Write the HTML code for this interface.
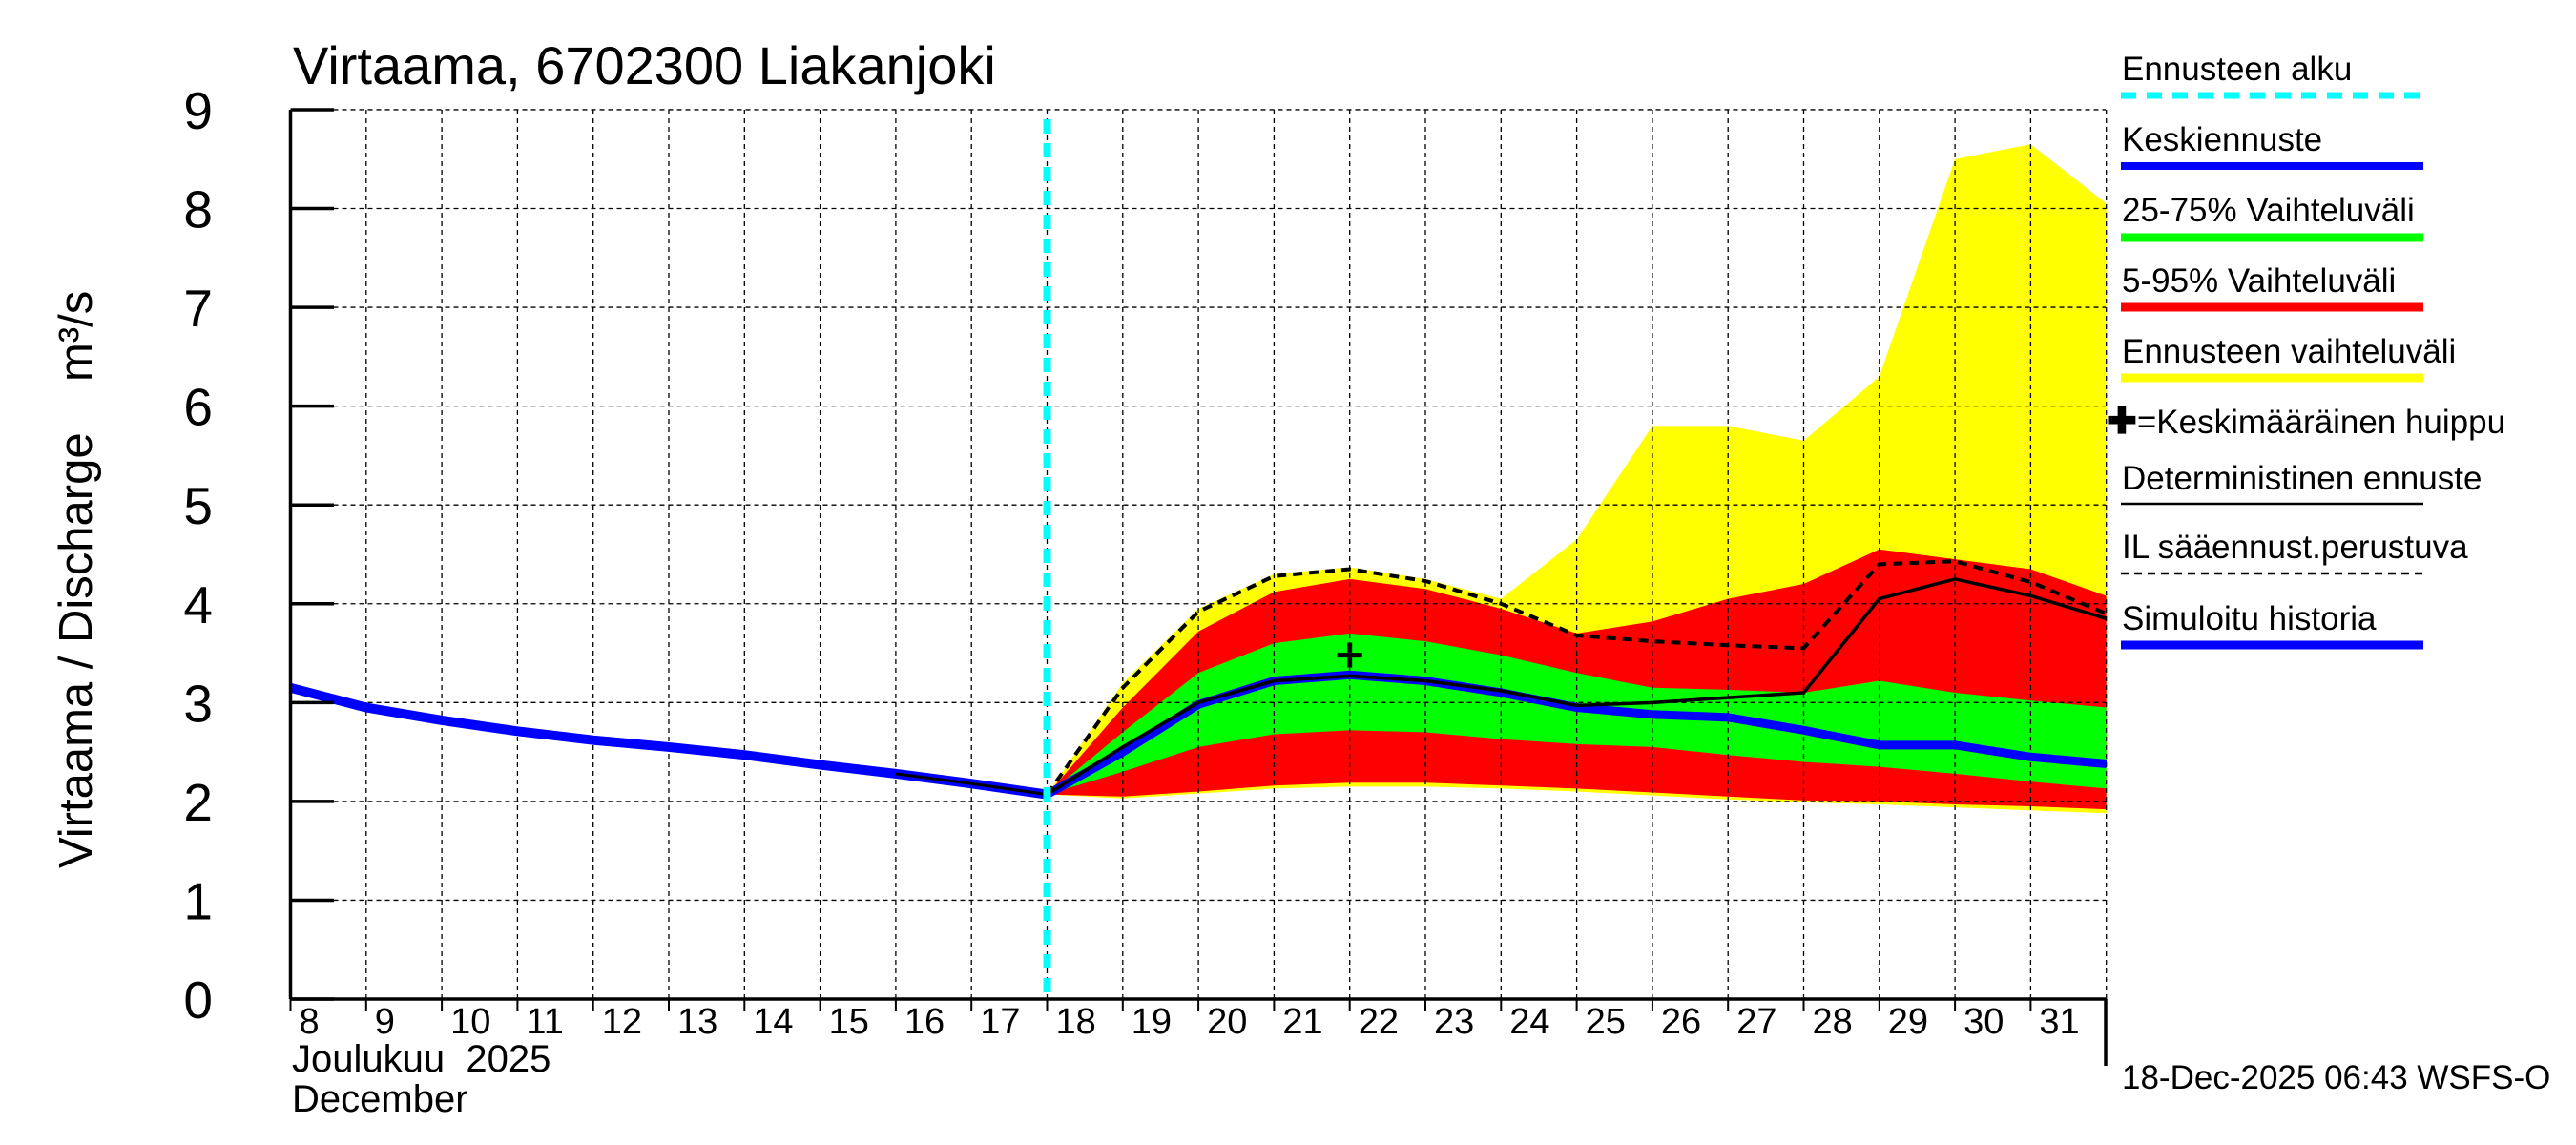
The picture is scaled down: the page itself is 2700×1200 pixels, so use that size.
<!DOCTYPE html>
<html><head><meta charset="utf-8"><style>
html,body{margin:0;padding:0;background:#fff;}
svg{display:block;font-family:"Liberation Sans",sans-serif;}
</style></head><body>
<svg id="chart" width="2700" height="1200" viewBox="0 0 2700 1200"></svg>
<script>
const histDays=[8,9,10,11,12,13,14,15,16,17,18];
const histVals=[3.15,2.95,2.82,2.71,2.62,2.55,2.47,2.37,2.28,2.18,2.07];
const fDays=[18,19,20,21,22,23,24,25,26,27,28,29,30,31,32];
const yelHi=[2.07,3.2,3.95,4.3,4.37,4.25,4.05,4.65,5.8,5.8,5.65,6.3,8.5,8.65,8.05];
const yelLo=[2.07,2.03,2.08,2.13,2.15,2.15,2.13,2.1,2.06,2.02,1.99,1.97,1.94,1.91,1.88];
const redHi=[2.07,2.95,3.72,4.12,4.25,4.15,3.95,3.7,3.82,4.05,4.2,4.55,4.45,4.35,4.08];
const redLo=[2.07,2.05,2.1,2.16,2.19,2.19,2.16,2.13,2.09,2.05,2.01,2.0,1.97,1.95,1.92];
const grnHi=[2.07,2.7,3.3,3.6,3.7,3.62,3.48,3.3,3.15,3.13,3.1,3.22,3.1,3.02,2.95];
const grnLo=[2.07,2.3,2.55,2.68,2.72,2.7,2.63,2.58,2.55,2.47,2.4,2.35,2.28,2.2,2.13];
const meanVals=[2.07,2.5,2.98,3.22,3.28,3.22,3.1,2.95,2.88,2.85,2.72,2.57,2.57,2.45,2.38];
const detVals=[2.07,2.55,3.0,3.22,3.27,3.22,3.12,2.97,3.0,3.05,3.1,4.05,4.25,4.08,3.85];
const ilVals=[2.07,3.15,3.92,4.28,4.35,4.23,4.0,3.68,3.62,3.58,3.55,4.4,4.43,4.22,3.9];
const detHistDays=[16,17,18];
const detHistVals=[2.28,2.18,2.07];
const peakDay=[22];
const peakVal=[3.48];
const yTicks=[0,1,2,3,4,5,6,7,8,9];
const xTickDays=[8,9,10,11,12,13,14,15,16,17,18,19,20,21,22,23,24,25,26,27,28,29,30,31];

const X0=304.5,PXD=79.3,Y0=1047,PXU=103.56,XMAX=2207;
const xs=d=>X0+(d-8)*PXD;
const ys=v=>Y0-v*PXU;
const NS="http://www.w3.org/2000/svg";
const svg=document.getElementById('chart');
function mk(tag,attrs,parent){const e=document.createElementNS(NS,tag);for(const k in attrs)e.setAttribute(k,attrs[k]);(parent||svg).appendChild(e);return e;}
function band(hi,lo,color,name){
  let p=fDays.map((d,i)=>xs(d)+','+ys(hi[i]));
  for(let i=fDays.length-1;i>=0;i--)p.push(xs(fDays[i])+','+ys(lo[i]));
  const e=mk('polygon',{points:p.join(' '),fill:color});
  
  
}
function line(days,vals,attrs,name){
  const e=mk('polyline',Object.assign({points:days.map((d,i)=>xs(d)+','+ys(vals[i])).join(' '),fill:'none'},attrs));
  
  
}
band(yelHi,yelLo,'#ffff00','forecast-range-band');
band(redHi,redLo,'#ff0000','range-5-95-band');
band(grnHi,grnLo,'#00ff00','range-25-75-band');

const grid=mk('g',{stroke:'#000','stroke-width':1.3,'stroke-dasharray':'5,4'});


for(const d of xTickDays.slice(1).concat([32])){mk('line',{x1:xs(d),x2:xs(d),y1:ys(9),y2:Y0},grid);}
for(const v of yTicks.slice(1)){mk('line',{x1:X0,x2:XMAX,y1:ys(v),y2:ys(v)},grid);}

line(fDays,meanVals,{stroke:'#0000ff','stroke-width':9},'mean-forecast-line');
line(histDays,histVals,{stroke:'#0000ff','stroke-width':10},'simulated-history-line');
line(fDays,detVals,{stroke:'#000','stroke-width':3.5},'deterministic-forecast-line');
line(detHistDays,detHistVals,{stroke:'#000','stroke-width':3},'deterministic-history-line');
line(fDays,ilVals,{stroke:'#000','stroke-width':4,'stroke-dasharray':'10,7'},'il-forecast-line');

for(let i=0;i<peakDay.length;i++){
  const g=mk('g',{stroke:'#000','stroke-width':5});
  
  
  const cx=xs(peakDay[i]),cy=ys(peakVal[i]);
  mk('line',{x1:cx-13,x2:cx+13,y1:cy,y2:cy},g);
  mk('line',{x1:cx,x2:cx,y1:cy-13,y2:cy+13},g);
}

const fs=mk('line',{x1:xs(18),x2:xs(18),y1:ys(9)+10,y2:Y0,stroke:'#00ffff','stroke-width':8,'stroke-dasharray':'15,10'});



const ax=mk('g',{stroke:'#000','stroke-width':3.5});


mk('line',{x1:X0,x2:X0,y1:ys(9),y2:Y0},ax);
mk('line',{x1:X0,x2:XMAX,y1:Y0,y2:Y0},ax);
mk('line',{x1:XMAX,x2:XMAX,y1:Y0,y2:1117},ax);
for(const v of yTicks){mk('line',{x1:X0,x2:350,y1:ys(v),y2:ys(v)},ax);}
for(const d of xTickDays){mk('line',{x1:xs(d),x2:xs(d),y1:Y0,y2:1060,'stroke-width':2},ax);}

for(const v of yTicks){
  const t=mk('text',{x:223,y:ys(v)+20,'font-size':55,'text-anchor':'end'});
  t.textContent=v;
  
  
}
for(const d of xTickDays){
  const t=mk('text',{x:xs(d)+9,y:1083,'font-size':38});
  t.textContent=d;
  
  
}
</script>
<div style="position:absolute;left:0;top:0;width:2700px;height:1200px;pointer-events:none;">
<svg width="2700" height="1200" style="position:absolute;left:0;top:0;font-family:'Liberation Sans',sans-serif;">
<text x="307" y="88" font-size="56">Virtaama, 6702300 Liakanjoki</text>
<text transform="translate(96,910) rotate(-90)" font-size="49">Virtaama / Discharge</text>
<text transform="translate(96,400) rotate(-90)" font-size="49">m³/s</text>
<text x="306" y="1123" font-size="40">Joulukuu&#160; 2025</text>
<text x="306" y="1165" font-size="40">December</text>
<text x="2224" y="1141" font-size="35">18-Dec-2025 06:43 WSFS-O</text>
<g font-size="35">
<text x="2224" y="84">Ennusteen alku</text>
<line x1="2223" x2="2540" y1="100" y2="100" stroke="#00ffff" stroke-width="7" stroke-dasharray="16,11"/>
<text x="2224" y="158">Keskiennuste</text>
<line x1="2223" x2="2540" y1="174" y2="174" stroke="#0000ff" stroke-width="8"/>
<text x="2224" y="232">25-75% Vaihteluväli</text>
<line x1="2223" x2="2540" y1="249" y2="249" stroke="#00ff00" stroke-width="9"/>
<text x="2224" y="306">5-95% Vaihteluväli</text>
<line x1="2223" x2="2540" y1="322" y2="322" stroke="#ff0000" stroke-width="9"/>
<text x="2224" y="380">Ennusteen vaihteluväli</text>
<line x1="2223" x2="2540" y1="396" y2="396" stroke="#ffff00" stroke-width="9"/>
<text x="2208" y="454"><tspan font-weight="bold" font-size="38">✚</tspan>=Keskimääräinen huippu</text>
<text x="2224" y="513">Deterministinen ennuste</text>
<line x1="2223" x2="2540" y1="528" y2="528" stroke="#000" stroke-width="2.5"/>
<text x="2224" y="585">IL sääennust.perustuva</text>
<line x1="2223" x2="2540" y1="601" y2="601" stroke="#000" stroke-width="2.5" stroke-dasharray="8,6"/>
<text x="2224" y="660">Simuloitu historia</text>
<line x1="2223" x2="2540" y1="676" y2="676" stroke="#0000ff" stroke-width="9"/>
</g>
</svg></div>
</body></html>
